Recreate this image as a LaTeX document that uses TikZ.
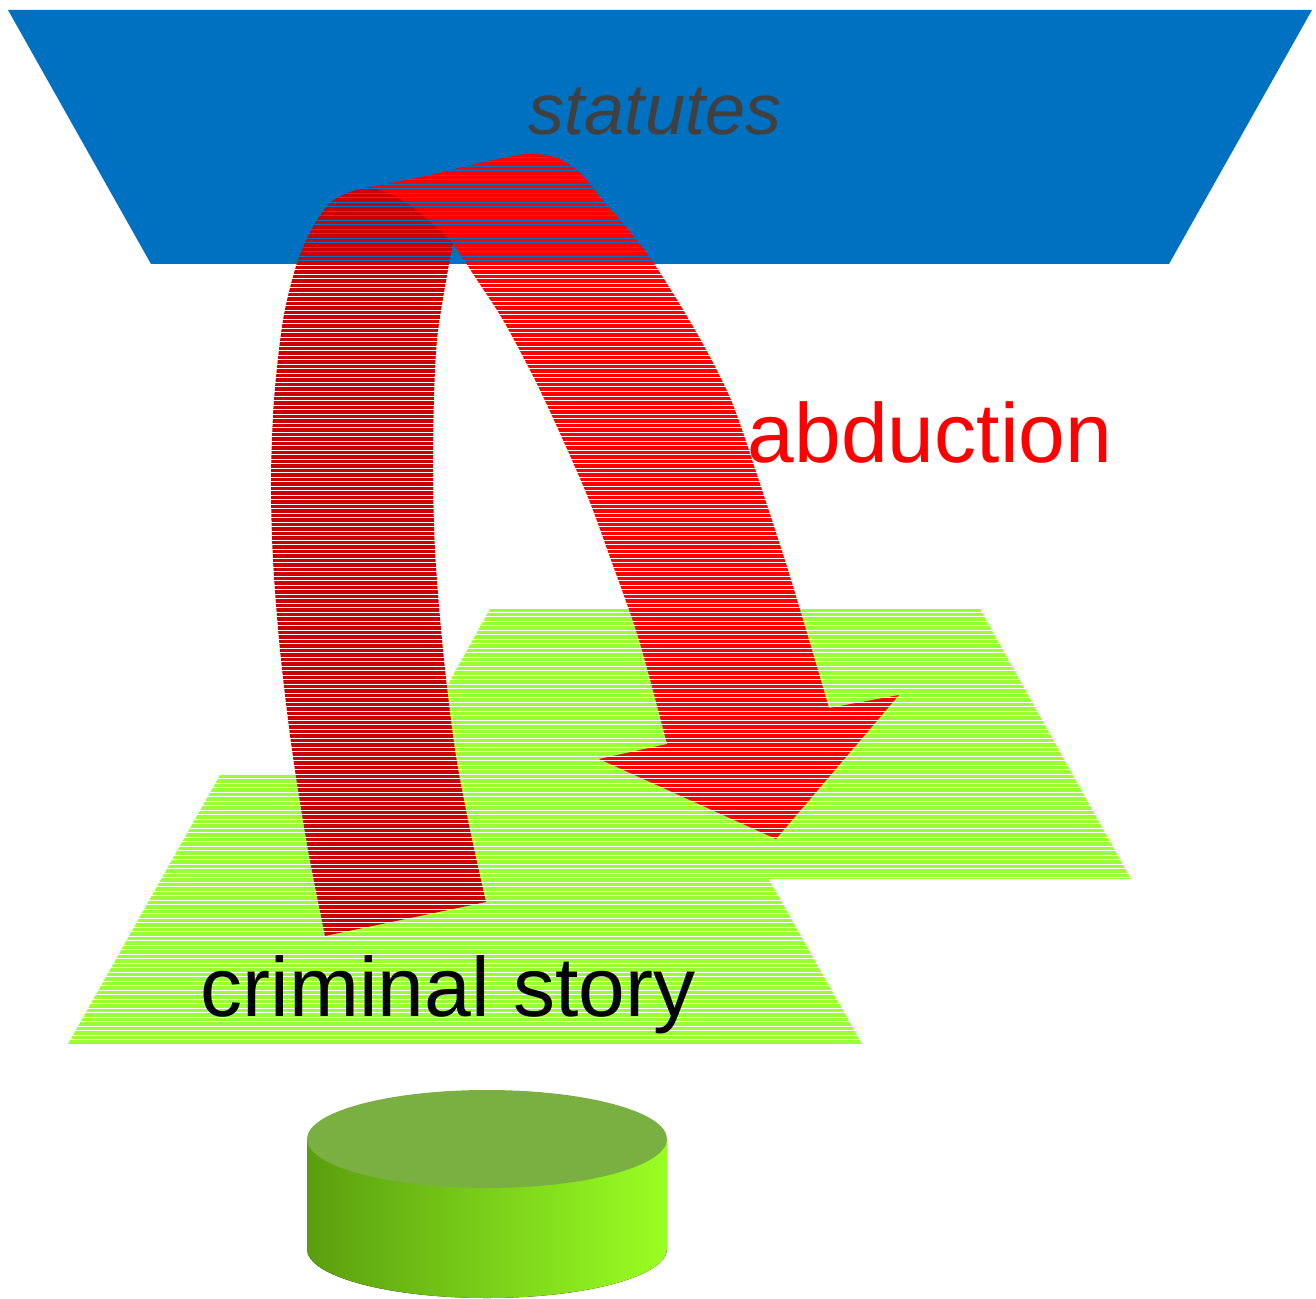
\documentclass[tikz,border=0pt]{standalone}
\usepackage{fontspec}
\setmainfont{Liberation Sans}
\definecolor{bluetop}{RGB}{0,112,192}
\definecolor{limegreen}{RGB}{153,255,51}
\definecolor{darkred}{RGB}{204,0,0}
\definecolor{brightred}{RGB}{255,0,0}
\definecolor{textgray}{RGB}{64,64,64}
\definecolor{cyltop}{RGB}{122,175,66}
\definecolor{cylleft}{RGB}{90,158,14}
\definecolor{cylright}{RGB}{153,255,34}
\newcommand\stripefill[4]{%
  \begin{scope}
    \clip #2;
    \foreach \k in {#3,...,#4} {
      \draw[#1, line width=1.75pt] (0,\k*4.5+2.25) -- (1316,\k*4.5+2.25);
    }
  \end{scope}}
\def\backplane{(490,609) -- (980,609) -- (1131,879) -- (339,879) -- cycle}
\def\frontplane{(220,775) -- (710,775) -- (862,1044) -- (68,1044) -- cycle}
\def\darkband{(325,936) -- (486,902) -- plot[smooth] coordinates {(486,902) (470,830) (455,750) (443,650) (435,550) (433,450) (437,340) (453,243)} -- plot[smooth] coordinates {(453,243) (440,230) (420,213) (397,197) (370,187)} -- plot[smooth] coordinates {(370,187) (350,192) (330,203) (313,227) (297,263) (283,320) (274,400) (271,480) (273,560) (280,650) (292,750) (308,850) (325,936)} -- cycle}
\def\brightband{(370,187) -- plot[smooth] coordinates {(370,187) (397,197) (420,213) (440,230) (453,243)} -- plot[smooth] coordinates {(453,243) (477,280) (503,320) (535,380) (563,440) (589,500) (611,560) (639,640) (667,744)} -- (599,759) -- (776,839) -- (899,695) -- plot[smooth] coordinates {(829,708) (809,640) (788,570) (762,490) (731,400) (695,330) (648,255) (600,197) (580,173) (557,158) (527,154) (480,163) (430,175) (370,187)} -- cycle}
\begin{document}
\begin{tikzpicture}[x=0.5pt,y=-0.5pt]
\useasboundingbox (0,0) rectangle (1316,1299);
% statutes plane
\fill[bluetop] (8,10) -- (1312,10) -- (1169,264) -- (151,264) -- cycle;
% story planes
\stripefill{limegreen}{\backplane}{134}{196}
\stripefill{limegreen}{\frontplane}{171}{233}
% arrow
\stripefill{darkred}{\darkband}{40}{210}
\stripefill{brightred}{\brightband}{33}{188}
% cylinder
\fill[left color=cylleft, right color=cylright] (307,1139) -- (307,1249) arc[start angle=180, end angle=0, x radius=180, y radius=49] -- (667,1139) -- cycle;
\fill[cyltop] (487,1139) ellipse [x radius=180, y radius=49];
% texts
\node[font=\fontsize{36}{43}\selectfont\itshape, text=textgray, anchor=base, inner sep=0pt] (statutes) at (655,135) {statutes};
\node[font=\fontsize{42}{50}\selectfont, text=brightred, anchor=base, inner sep=0pt] (abduction) at (930,462) {abduction};
\node[font=\fontsize{42}{50}\selectfont, text=black, anchor=base, inner sep=0pt] (story) at (448,1016) {criminal story};
\end{tikzpicture}
\end{document}
